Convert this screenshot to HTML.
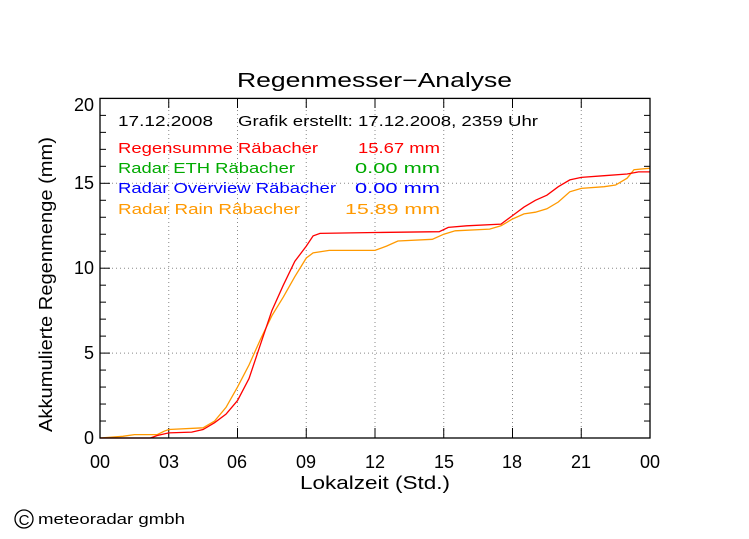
<!DOCTYPE html>
<html><head><meta charset="utf-8"><style>
html,body{margin:0;padding:0;background:#fff;}
svg{display:block;font-family:"Liberation Sans",sans-serif;}
</style></head><body>
<svg id="s" width="749" height="539" xmlns="http://www.w3.org/2000/svg">
<rect width="749" height="539" fill="#fff"/>
<text x="237" y="87" font-size="20" textLength="275" lengthAdjust="spacingAndGlyphs">Regenmesser−Analyse</text>
<g id="grid" stroke="#888" stroke-dasharray="1,3" stroke-width="1"></g>
<g id="ticks" stroke="#000" stroke-width="1"></g>
<path id="orange" fill="none" stroke="#ff9900" stroke-width="1.3"/>
<path id="red" fill="none" stroke="#ff0000" stroke-width="1.3"/>
<rect x="100" y="98.4" width="550" height="339.6" fill="none" stroke="#000" stroke-width="1.3"/>
<g font-size="18" text-anchor="end">
<text x="94" y="444">0</text><text x="94" y="359">5</text><text x="94" y="274">10</text><text x="94" y="189">15</text><text x="94" y="111">20</text>
</g>
<g font-size="18" text-anchor="middle">
<text x="100" y="468">00</text><text x="169" y="468">03</text><text x="237" y="468">06</text><text x="306" y="468">09</text><text x="375" y="468">12</text><text x="444" y="468">15</text><text x="512" y="468">18</text><text x="581" y="468">21</text><text x="650" y="468">00</text>
</g>
<text x="300" y="489" font-size="18" textLength="150" lengthAdjust="spacingAndGlyphs">Lokalzeit (Std.)</text>
<text transform="translate(52,432) rotate(-90)" font-size="18" textLength="295" lengthAdjust="spacingAndGlyphs">Akkumulierte Regenmenge (mm)</text>
<g font-size="15" lengthAdjust="spacingAndGlyphs">
<text x="118" y="126" textLength="95" lengthAdjust="spacingAndGlyphs">17.12.2008</text><text x="238" y="126" textLength="300" lengthAdjust="spacingAndGlyphs">Grafik erstellt: 17.12.2008, 2359 Uhr</text>
<text x="118" y="153" fill="#ff0000" textLength="200" lengthAdjust="spacingAndGlyphs">Regensumme Räbacher</text><text x="358" y="153" fill="#ff0000" textLength="82" lengthAdjust="spacingAndGlyphs">15.67  mm</text>
<text x="118" y="173" fill="#00aa00" textLength="177" lengthAdjust="spacingAndGlyphs">Radar ETH Räbacher</text><text x="355" y="173" fill="#00aa00" textLength="85" lengthAdjust="spacingAndGlyphs">0.00  mm</text>
<text x="118" y="193" fill="#0000ff" textLength="218" lengthAdjust="spacingAndGlyphs">Radar Overview Räbacher</text><text x="355" y="193" fill="#0000ff" textLength="85" lengthAdjust="spacingAndGlyphs">0.00  mm</text>
<text x="118" y="214" fill="#ff9900" textLength="182" lengthAdjust="spacingAndGlyphs">Radar Rain Râbacher</text><text x="345" y="214" fill="#ff9900" textLength="95" lengthAdjust="spacingAndGlyphs">15.89  mm</text>
</g>
<circle cx="24" cy="519" r="9" fill="none" stroke="#000" stroke-width="1.3"/>
<text x="24" y="525" font-size="15" text-anchor="middle">C</text>
<text x="38" y="524" font-size="15" textLength="147" lengthAdjust="spacingAndGlyphs">meteoradar gmbh</text>
</svg>
<script>
var X=function(h){return 100+h*550/24},Y=function(v){return 438-v*16.98};
var g='',t='';
for(var i=1;i<8;i++){var x=X(i*3);g+='<line x1="'+x+'" y1="98" x2="'+x+'" y2="438"/>';t+='<line x1="'+x+'" y1="438" x2="'+x+'" y2="428"/><line x1="'+x+'" y1="98" x2="'+x+'" y2="108"/>';}
for(var v=5;v<20;v+=5){var y=Y(v);g+='<line x1="100" y1="'+y+'" x2="650" y2="'+y+'"/>';}
for(var v=1;v<20;v++){var y=Y(v),l=v%5?6:10;t+='<line x1="100" y1="'+y+'" x2="'+(100+l)+'" y2="'+y+'"/><line x1="650" y1="'+y+'" x2="'+(650-l)+'" y2="'+y+'"/>';}
document.getElementById('grid').innerHTML=g;document.getElementById('ticks').innerHTML=t;
function p(a){var s='';for(var i=0;i<a.length;i+=2)s+=(i?'L':'M')+X(a[i]).toFixed(1)+','+Y(a[i+1]).toFixed(1);return s;}
document.getElementById('red').setAttribute('d',p([0,0,2.2,0,2.5,0.15,3,0.3,4,0.35,4.5,0.5,5,0.9,5.5,1.4,6,2.2,6.5,3.5,7,5.5,7.5,7.5,8,9,8.5,10.4,9,11.3,9.3,11.9,9.6,12.05,12,12.1,14.8,12.15,15.2,12.4,16,12.5,17.5,12.6,18,13.1,18.5,13.6,19,14.0,19.5,14.3,20,14.8,20.5,15.2,21,15.35,22,15.45,23,15.55,23.5,15.67,24,15.67]));
document.getElementById('orange').setAttribute('d',p([0,0,1,0.1,1.5,0.2,2.5,0.2,2.8,0.4,3,0.5,4.5,0.6,5,1.0,5.5,1.8,6,3.0,6.5,4.3,7,5.8,7.5,7.2,8,8.3,8.5,9.5,9,10.6,9.3,10.9,10,11.05,12,11.05,12.5,11.3,13,11.6,14.5,11.7,15,12.0,15.5,12.2,17,12.3,17.5,12.5,18,12.9,18.5,13.2,19,13.3,19.5,13.5,20,13.9,20.5,14.5,21,14.7,22,14.8,22.5,14.9,23,15.3,23.3,15.8,24,15.89]));
</script>
</body></html>
